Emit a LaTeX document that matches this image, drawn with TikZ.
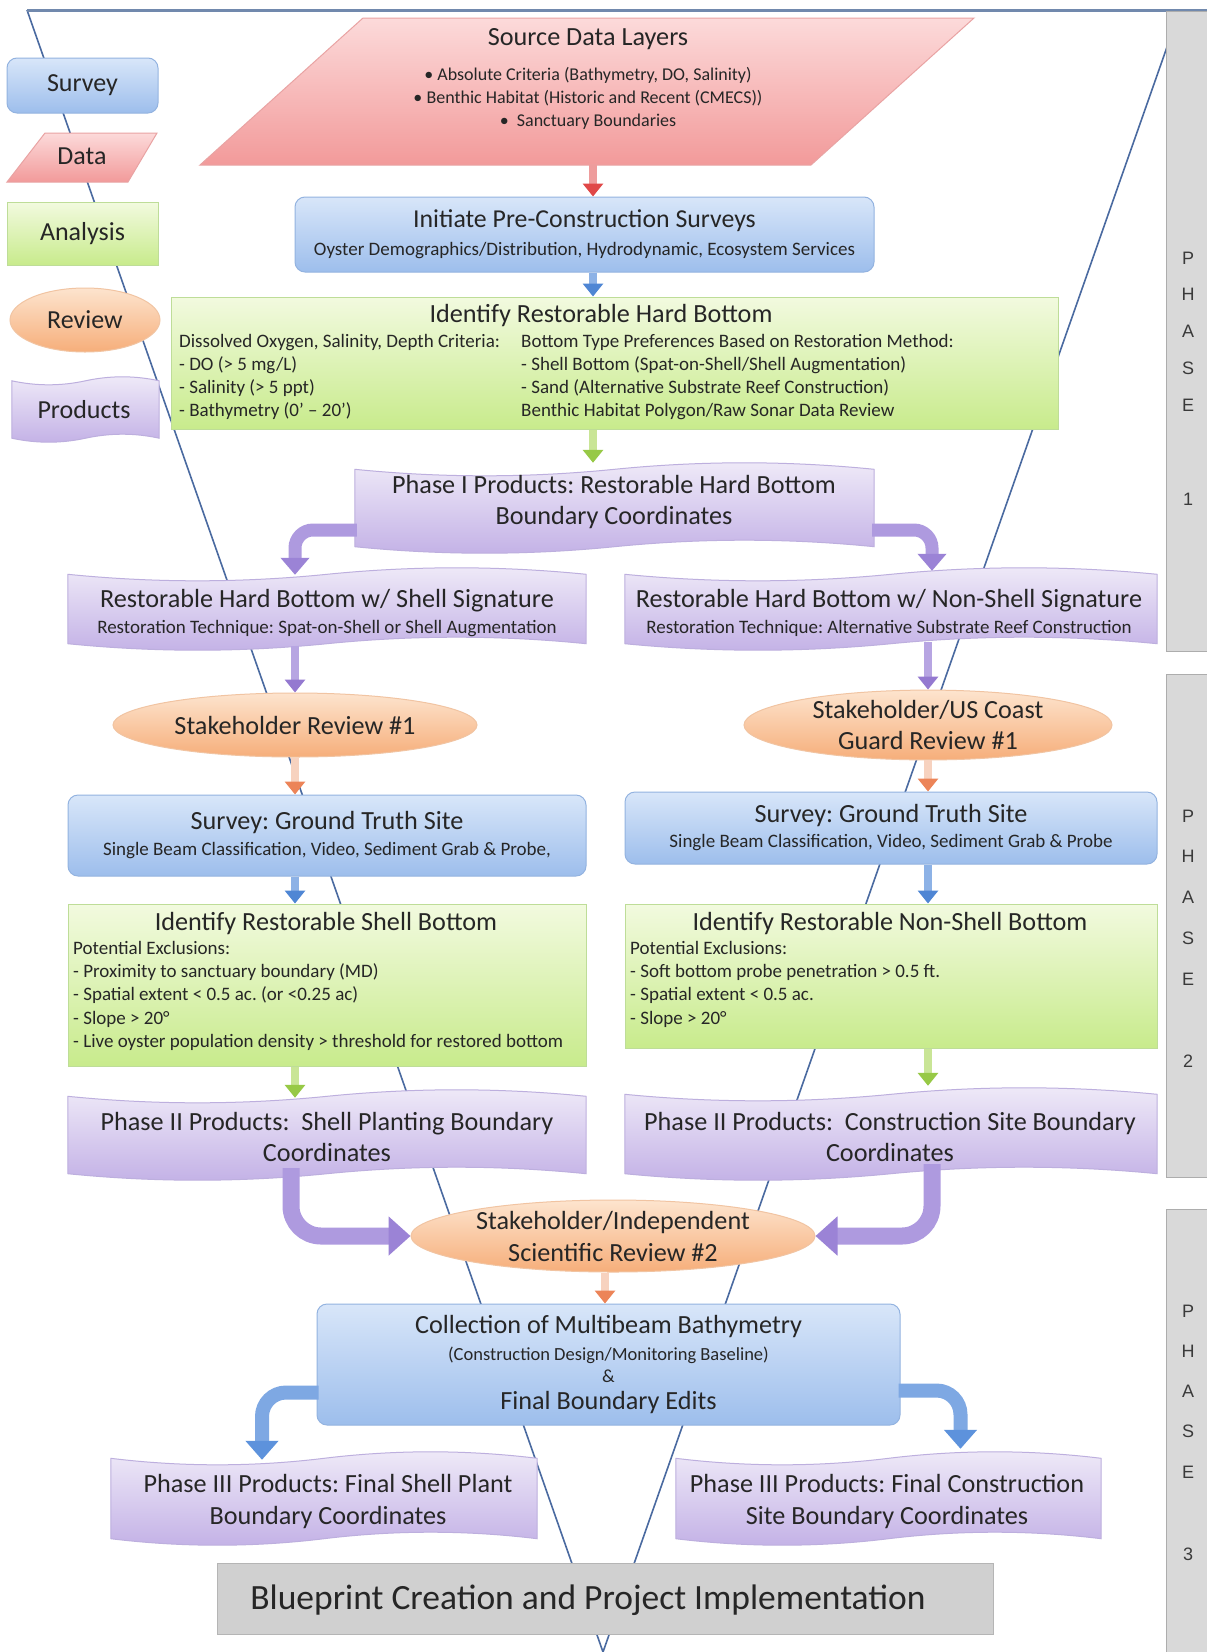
\documentclass[tikz,border=0pt]{standalone}
\usepackage{fontspec}
\setmainfont{Carlito}
\newfontfamily\phasefont{Liberation Sans}
\usetikzlibrary{arrows.meta,calc,shapes.geometric}
\pgfdeclarelayer{lines}
\pgfdeclarelayer{shapes}
\pgfsetlayers{lines,shapes,main}

\definecolor{txtc}{HTML}{262626}
\definecolor{svTop}{HTML}{D8E6F9}
\definecolor{svBot}{HTML}{9DBEEC}
\definecolor{svLine}{HTML}{93B3E0}
\definecolor{dtTop}{HTML}{FCDADA}
\definecolor{dtBot}{HTML}{F29A9A}
\definecolor{dtLine}{HTML}{E9A3A3}
\definecolor{anTop}{HTML}{F2FADF}
\definecolor{anBot}{HTML}{C8EB8C}
\definecolor{anLine}{HTML}{BEDD98}
\definecolor{rvTop}{HTML}{FDE4CE}
\definecolor{rvBot}{HTML}{F6AE7A}
\definecolor{rvLine}{HTML}{F1C4A2}
\definecolor{prTop}{HTML}{EFEAF8}
\definecolor{prBot}{HTML}{C3B1E6}
\definecolor{prLine}{HTML}{BDAFDE}
\definecolor{vlineC}{HTML}{4A6AA0}
\definecolor{topC}{HTML}{7189AD}
\definecolor{barC}{HTML}{D9D9D9}
\definecolor{barLine}{HTML}{ADADAD}
\definecolor{bpC}{HTML}{D0D0D0}
\definecolor{bpLine}{HTML}{B5B5B5}
\definecolor{arRedS}{HTML}{EE9C9C}
\definecolor{arRed}{HTML}{E04848}
\definecolor{arBlueS}{HTML}{8DB2E6}
\definecolor{arBlue}{HTML}{4F86D4}
\definecolor{arGreenS}{HTML}{C9E596}
\definecolor{arGreen}{HTML}{97C946}
\definecolor{arPurS}{HTML}{B7A5E2}
\definecolor{arPur}{HTML}{9479D0}
\definecolor{arOrS}{HTML}{F7D2BF}
\definecolor{arOr}{HTML}{EC8458}
\definecolor{bigPurS}{HTML}{AE9ADF}
\definecolor{bigPur}{HTML}{9B83D6}
\definecolor{bigBlueS}{HTML}{7EA8E3}
\definecolor{bigBlue}{HTML}{5D92DC}
\definecolor{phTxt}{HTML}{3A3A3A}

\newcommand\fs[2]{\fontsize{#1}{#2}\selectfont}

\tikzset{
  txt/.style={inner sep=0pt, text=txtc, align=center},
  ttl/.style={font=\fs{26.2}{29}},
  lst/.style={txt, align=left, anchor=north west, font=\fs{19}{23.2}},
  surveybox/.style={draw=svLine, line width=1pt, rounded corners=10pt, top color=svTop, bottom color=svBot, inner sep=0pt, text=txtc, align=center},
  analysisbox/.style={draw=anLine, line width=1pt, top color=anTop, bottom color=anBot, inner sep=0pt, text=txtc, align=center},
  reviewbox/.style={ellipse, draw=rvLine, line width=1pt, top color=rvTop, bottom color=rvBot, inner sep=0pt, text=txtc, align=center},
  prodframe/.style={inner sep=0pt},
  prodfill/.style={draw=prLine, line width=1pt, top color=prTop, bottom color=prBot},
  datafill/.style={draw=dtLine, line width=1pt, top color=dtTop, bottom color=dtBot},
  bpbox/.style={draw=bpLine, line width=1pt, fill=bpC, inner sep=0pt},
  phasebar/.style={draw=barLine, line width=1pt, fill=barC, inner sep=0pt},
  phtxt/.style={inner sep=0pt, text=phTxt, align=center, anchor=north},
  vline/.style={draw=vlineC, line width=1.6pt},
  topline/.style={draw=topC, line width=3pt},
  flowbase/.style={line width=8pt},
  redflow/.style={flowbase, draw=arRedS, -{Triangle[width=20pt,length=13pt,color=arRed]}},
  blueflow/.style={flowbase, draw=arBlueS, -{Triangle[width=20pt,length=13pt,color=arBlue]}},
  greenflow/.style={flowbase, draw=arGreenS, -{Triangle[width=20pt,length=13pt,color=arGreen]}},
  purflow/.style={flowbase, draw=arPurS, -{Triangle[width=20pt,length=13pt,color=arPur]}},
  orflow/.style={flowbase, draw=arOrS, -{Triangle[width=20pt,length=13pt,color=arOr]}},
  purbend/.style={line width=13pt, draw=bigPurS, rounded corners=18pt, -{Triangle[width=28pt,length=17pt,color=bigPur]}},
  bigpur/.style={line width=17pt, draw=bigPurS, rounded corners=30pt, -{Triangle[width=38pt,length=22pt,color=bigPur]}},
  bigblue/.style={line width=14pt, draw=bigBlueS, rounded corners=24pt, -{Triangle[width=32pt,length=19pt,color=bigBlue]}},
}

% wavy "products" outline around a named node; #2 = amplitude
\newcommand\wavebox[2]{%
  \begin{pgfonlayer}{shapes}
  \path[prodfill]
    ($(#1.north west)+(0,#2)$)
    .. controls ($(#1.north west)!0.1667!(#1.north east)+(0,2.333*#2)$) and ($(#1.north west)!0.3333!(#1.north east)+(0,2.333*#2)$) .. ($(#1.north)+(0,#2)$)
    .. controls ($(#1.north west)!0.6667!(#1.north east)+(0,-0.333*#2)$) and ($(#1.north west)!0.8333!(#1.north east)+(0,-0.333*#2)$) .. ($(#1.north east)+(0,#2)$)
    -- ($(#1.south east)+(0,-#2)$)
    .. controls ($(#1.south west)!0.8333!(#1.south east)+(0,-2.333*#2)$) and ($(#1.south west)!0.6667!(#1.south east)+(0,-2.333*#2)$) .. ($(#1.south)+(0,-#2)$)
    .. controls ($(#1.south west)!0.3333!(#1.south east)+(0,0.333*#2)$) and ($(#1.south west)!0.1667!(#1.south east)+(0,0.333*#2)$) .. ($(#1.south west)+(0,-#2)$)
    -- cycle;
  \end{pgfonlayer}}

\begin{document}
\frenchspacing
\begin{tikzpicture}[x=1pt,y=-1pt]
\useasboundingbox (0,0) rectangle (1207,1652);

% ---------- background + V guide lines ----------
\begin{pgfonlayer}{lines}
  \fill[white] (0,0) rectangle (1207,1652);
  \coordinate (vtl) at (27,10);
  \coordinate (vtip) at (603,1652);
  \coordinate (vtr) at (1167,47);
  \coordinate (vend) at (1207,10);
  \draw[vline] (vtl) -- (vtip) -- (vtr);
  \draw[topline] (vtl) -- (vend);
\end{pgfonlayer}

% ---------- phase bars ----------
\node[phasebar, anchor=north west, minimum width=41pt, minimum height=640pt] (bar1) at (1166,11) {};
\node[phasebar, anchor=north west, minimum width=41pt, minimum height=503pt] (bar2) at (1166,674) {};
\node[phasebar, anchor=north west, minimum width=41pt, minimum height=445pt] (bar3) at (1166,1209) {};
\node[phtxt, font=\phasefont\fs{18}{36.75}] (ph1L) at (1188,251.5) {P\\H\\A\\S\\E\\[58pt]1};
\node[phtxt, font=\phasefont\fs{18}{40.75}] (ph2L) at (1188,809.5) {P\\H\\A\\S\\E\\[42pt]2};
\node[phtxt, font=\phasefont\fs{18}{40.25}] (ph3L) at (1188,1304.5) {P\\H\\A\\S\\E\\[42pt]3};

% ---------- legend ----------
\node[surveybox, minimum width=151pt, minimum height=55pt, font=\fs{26}{30}] (legS) at (82.5,85.5) {Survey};
\path[datafill] (45,133) -- (157,133) -- (128,182) -- (7,182) -- cycle;
\node[txt, font=\fs{26}{30}] (legD) at (82,156) {Data};
\node[analysisbox, minimum width=151pt, minimum height=63pt, font=\fs{26}{30}] (legA) at (82.5,233.5) {Analysis};
\node[reviewbox, minimum width=150pt, minimum height=64pt, font=\fs{26}{30}] (legR) at (85,320) {Review};
\node[prodframe, minimum width=147pt, minimum height=65pt] (legP) at (85.5,409.5) {};
\wavebox{legP}{4}
\node[txt, font=\fs{26}{30}] (legPt) at (84,410) {Products};

% ---------- phase 1 ----------
\path[datafill] (363,18) -- (974,18) -- (811,165) -- (200,165) -- cycle;
\node[txt, ttl] (srcT) at (588,39) {Source Data Layers};
\node[txt, font=\fs{18}{23}] (srcB) at (588,98) {• Absolute Criteria (Bathymetry, DO, Salinity)\\• Benthic Habitat (Historic and Recent (CMECS))\\•\ \ Sanctuary Boundaries};
\coordinate (srcbot) at (593,165);

\node[surveybox, minimum width=579pt, minimum height=75pt, font=\fs{25.8}{28}] (init) at (584.5,234.5)
  {Initiate Pre-Construction Surveys\\{\fs{19}{28}Oyster Demographics/Distribution, Hydrodynamic, Ecosystem Services}};

\node[analysisbox, minimum width=887pt, minimum height=132pt] (hard) at (614.5,363) {};
\node[txt, ttl] (hardT) at (601,316) {Identify Restorable Hard Bottom};
\node[lst] (hardL) at (179,334) {Dissolved Oxygen, Salinity, Depth Criteria:\\- DO (> 5 mg/L)\\- Salinity (> 5 ppt)\\- Bathymetry (0' – 20')};
\node[lst] (hardR) at (521,334) {Bottom Type Preferences Based on Restoration Method:\\- Shell Bottom (Spat-on-Shell/Shell Augmentation)\\- Sand (Alternative Substrate Reef Construction)\\Benthic Habitat Polygon/Raw Sonar Data Review};

\node[prodframe, minimum width=519pt, minimum height=90pt] (ph1) at (614.5,508) {};
\wavebox{ph1}{6.5}
\node[txt, font=\fs{26.2}{31}] (ph1t) at (614,502) {Phase I Products: Restorable Hard Bottom\\Boundary Coordinates};

\node[prodframe, minimum width=518pt, minimum height=82pt] (sigL) at (327,609) {};
\wavebox{sigL}{6.5}
\node[txt, font=\fs{26.2}{26}] (sigLt) at (327,613) {Restorable Hard Bottom w/ Shell Signature\\{\fs{19}{26}Restoration Technique: Spat-on-Shell or Shell Augmentation}};
\node[prodframe, minimum width=532pt, minimum height=82pt] (sigR) at (891,609) {};
\wavebox{sigR}{6.5}
\node[txt, font=\fs{26.2}{26}] (sigRt) at (889,613) {Restorable Hard Bottom w/ Non-Shell Signature\\{\fs{19}{26}Restoration Technique: Alternative Substrate Reef Construction}};

% ---------- phase 2 ----------
\node[reviewbox, minimum width=364pt, minimum height=64pt, font=\fs{26.2}{31}] (rev1) at (295,725) {Stakeholder Review \#1};
\node[reviewbox, minimum width=368pt, minimum height=66pt, font=\fs{26.2}{31}] (rev1R) at (928,725) {Stakeholder/US Coast\\Guard Review \#1};

\node[surveybox, minimum width=518pt, minimum height=81pt, font=\fs{26.2}{26}] (svL) at (327,835.5)
  {Survey: Ground Truth Site\\{\fs{19}{26}Single Beam Classification, Video, Sediment Grab \& Probe,}};
\node[surveybox, minimum width=532pt, minimum height=72pt, font=\fs{26.2}{25}] (svR) at (891,828)
  {Survey: Ground Truth Site\\{\fs{19}{25}Single Beam Classification, Video, Sediment Grab \& Probe}};

\node[analysisbox, minimum width=518pt, minimum height=162pt] (idL) at (327,985) {};
\node[txt, ttl] (idLt) at (326,924) {Identify Restorable Shell Bottom};
\node[lst] (idLl) at (73,941) {Potential Exclusions:\\- Proximity to sanctuary boundary (MD)\\- Spatial extent < 0.5 ac. (or <0.25 ac)\\- Slope > 20°\\- Live oyster population density > threshold for restored bottom};
\node[analysisbox, minimum width=532pt, minimum height=144pt] (idR) at (891,976) {};
\node[txt, ttl] (idRt) at (890,924) {Identify Restorable Non-Shell Bottom};
\node[lst] (idRl) at (630,941) {Potential Exclusions:\\- Soft bottom probe penetration > 0.5 ft.\\- Spatial extent < 0.5 ac.\\- Slope > 20°};

\node[prodframe, minimum width=518pt, minimum height=90pt] (p2L) at (327,1135) {};
\wavebox{p2L}{6.5}
\node[txt, font=\fs{26.2}{31}] (p2Lt) at (327,1137) {Phase II Products:\ \ Shell Planting Boundary\\Coordinates};
\node[prodframe, minimum width=532pt, minimum height=92pt] (p2R) at (891,1134) {};
\wavebox{p2R}{6.5}
\node[txt, font=\fs{26.2}{31}] (p2Rt) at (890,1137) {Phase II Products:\ \ Construction Site Boundary\\Coordinates};

% ---------- phase 3 ----------
\node[reviewbox, minimum width=404pt, minimum height=72pt, font=\fs{26.2}{32}] (rev2) at (613,1236) {Stakeholder/Independent\\Scientific Review \#2};

\node[surveybox, minimum width=583pt, minimum height=121pt, font=\fs{26.2}{27}] (coll) at (608.5,1364.5)
  {Collection of Multibeam Bathymetry\\{\fs{18.5}{27}(Construction Design/Monitoring Baseline)}\\[-5pt]{\fs{18.5}{27}\&}\\Final Boundary Edits};

\node[prodframe, minimum width=426pt, minimum height=93pt] (p3L) at (324,1498.5) {};
\wavebox{p3L}{6.5}
\node[txt, font=\fs{26.2}{32}] (p3Lt) at (328,1501) {Phase III Products: Final Shell Plant\\Boundary Coordinates};
\node[prodframe, minimum width=425pt, minimum height=93pt] (p3R) at (888.5,1498.5) {};
\wavebox{p3R}{6.5}
\node[txt, font=\fs{26.2}{32}] (p3Rt) at (887,1501) {Phase III Products: Final Construction\\Site Boundary Coordinates};

\node[bpbox, minimum width=776pt, minimum height=71pt] (bp) at (605,1598.5) {};
\node[txt, font=\fs{35.5}{40}] (bpt) at (588,1600) {Blueprint Creation and Project Implementation};

% ---------- connectors ----------
\draw[redflow] (srcbot) -- (init.north -| srcbot);
\draw[blueflow] ($(init.south)+(8.5,0)$) -- ($(hard.north)+(-21.5,0)$);
\draw[greenflow] ($(hard.south)+(-21.5,0)$) -- ($(ph1.north)+(-21.5,0)$);

\draw[purbend] ($(ph1.west)+(2,22)$) -| ($(sigL.north)+(-32,7)$);
\draw[purbend] ($(ph1.east)+(-2,22)$) -| ($(sigR.north)+(41,3)$);

\draw[purflow] ($(rev1.north |- sigL.south)+(0,-4)$) -- (rev1.north);
\draw[purflow] ($(rev1R.north |- sigR.south)+(0,-8)$) -- (rev1R.north);
\draw[orflow] (rev1.south) -- (svL.north -| rev1.south);
\draw[orflow] (rev1R.south) -- (svR.north -| rev1R.south);
\draw[blueflow] (svL.south -| rev1.south) -- (idL.north -| rev1.south);
\draw[blueflow] (svR.south -| rev1R.south) -- (idR.north -| rev1R.south);
\draw[greenflow] (idL.south -| rev1.south) -- ($(p2L.north -| rev1.south)+(0,8)$);
\draw[greenflow] (idR.south -| rev1R.south) -- ($(p2R.north -| rev1R.south)+(0,-2)$);

\draw[bigpur] ($(p2L.south)+(-36,-12)$) |- (rev2.west);
\draw[bigpur] ($(p2R.south)+(41,-16)$) |- (rev2.east);
\draw[orflow] ($(rev2.south)+(-8,0)$) -- ($(coll.north)+(-3.5,0)$);

\draw[bigblue] ($(coll.west)+(2,28)$) -| ($(p3L.north)+(-62,8)$);
\draw[bigblue] ($(coll.east)+(-2,26)$) -| ($(p3R.north)+(72,-3)$);

\end{tikzpicture}
\end{document}
